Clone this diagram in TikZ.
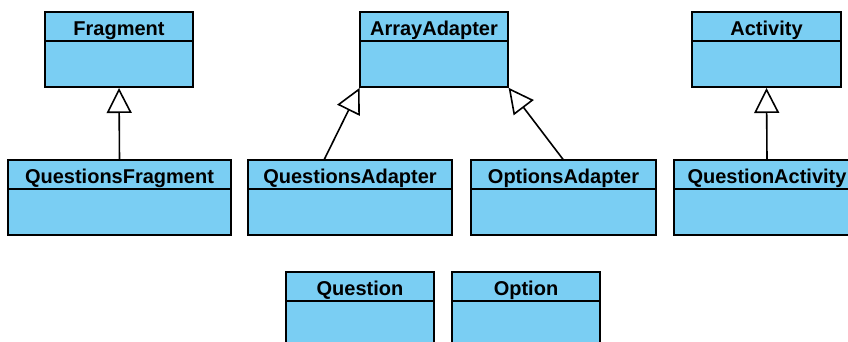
\documentclass[tikz,border=0pt]{standalone}
\usepackage{fontspec}
\setmainfont{Liberation Sans}
\usetikzlibrary{arrows.meta}
\definecolor{classfill}{RGB}{122,206,243}
\tikzset{
  x=1pt, y=-1pt,
  classbox/.style={draw=black, fill=classfill, line width=1.6pt, inner sep=0pt, outer sep=0pt, anchor=north west},
  classhead/.style={classbox, minimum height=29pt, text height=17.5pt, text depth=0pt,
    font=\fontsize{20}{24}\selectfont\bfseries},
  inherits/.style={line width=1.6pt, shorten >=1pt,
    -{Triangle[open, length=25pt, width=25pt, fill=white, line width=1.6pt]}}
}
% UML class: name, left, top, width, body height, title
\newcommand{\umlclass}[6]{%
  \node[classhead, minimum width=#4pt] (#1-h) at (#2,#3) {#6};
  \node[classbox, minimum width=#4pt, minimum height=#5pt] (#1-b) at (#1-h.south west) {};
}
\begin{document}
\begin{tikzpicture}
\clip (0,0) rectangle (848,342);
\fill[white] (0,0) rectangle (848,342);

% base classes
\umlclass{frag}{45}{12}{148}{46}{Fragment}
\umlclass{aa}{360}{12}{148}{46}{ArrayAdapter}
\umlclass{act}{692}{12}{149}{46}{Activity}

% derived classes
\umlclass{qf}{8}{160}{223}{46}{QuestionsFragment}
\umlclass{qa}{248}{160}{204}{46}{QuestionsAdapter}
\umlclass{oa}{471}{160}{185}{46}{OptionsAdapter}
\umlclass{qac}{674}{160}{186}{46}{QuestionActivity}

% model classes
\umlclass{q}{286}{272}{148}{50}{Question}
\umlclass{o}{452}{272}{148}{50}{Option}

% generalisations
\draw[inherits] (qf-h.north) -- (frag-b.south);
\draw[inherits] ([xshift=76pt]qa-h.north west) -- (aa-b.south west);
\draw[inherits] (oa-h.north) -- (aa-b.south east);
\draw[inherits] (qac-h.north) -- (act-b.south);
\end{tikzpicture}
\end{document}
